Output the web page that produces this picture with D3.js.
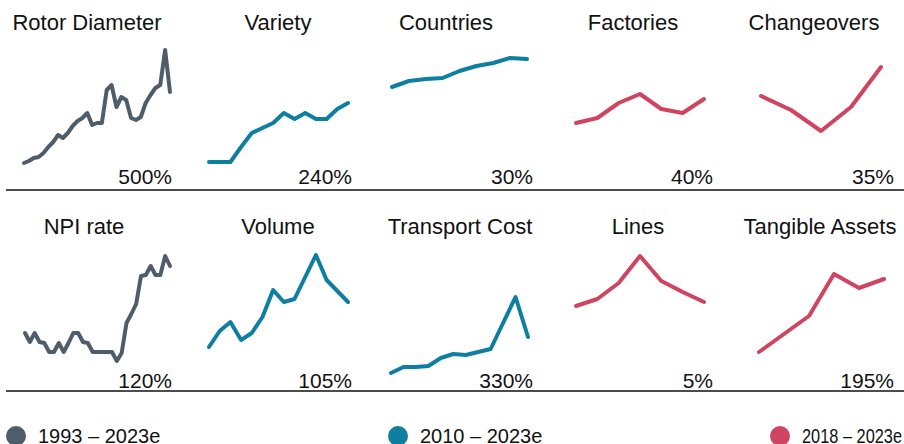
<!DOCTYPE html>
<html>
<head>
<meta charset="utf-8">
<script src="https://cdn.jsdelivr.net/npm/d3@7"></script>
<style>
  body { margin: 0; background: #fff; }
  text { font-family: "Liberation Sans", Arial, sans-serif; fill: #111; }
</style>
</head>
<body>
<svg id="chart" width="904" height="444"></svg>
<script>
// Panel titles and growth labels (row by row)
const titles = ["Rotor Diameter", "Variety", "Countries", "Factories", "Changeovers",
  "NPI rate", "Volume", "Transport Cost", "Lines", "Tangible Assets"]
const growthLabels = ["500%", "240%", "30%", "40%", "35%",
  "120%", "105%", "330%", "5%", "195%"]
const periods = ["1993 – 2023e", "2010 – 2023e", "2018 – 2023e"]
const panelPeriod = [0, 1, 1, 2, 2, 0, 1, 1, 2, 2]

// Series, index values
const rotorDiameter = [7, 9, 12, 13, 17, 23, 28, 35, 32, 37, 44, 49, 52, 57, 45, 47, 47,
  80, 85, 63, 73, 70, 52, 50, 53, 67, 75, 82, 85, 120, 78]
const variety = [8, 8, 8, 23, 37, 42, 47, 57, 51, 57, 51, 51, 61, 67]
const countries = [83, 89, 91, 92, 99, 104, 107, 112, 111]
const factories = [47, 52, 67, 76, 61, 57, 71]
const changeovers = [74, 60, 39, 63, 103]
const npiRate = [41, 32, 41, 32, 31, 22, 22, 31, 22, 31, 41, 41, 32, 31, 22, 22, 22, 22,
  22, 13, 21, 51, 60, 70, 98, 99, 108, 99, 99, 118, 108]
const volume = [27, 43, 52, 34, 41, 57, 84, 72, 75, 97, 119, 94, 83, 72]
const transportCost = [1, 7, 7, 8, 16, 20, 19, 22, 25, 51, 77, 37]
const lines = [68, 75, 91, 118, 93, 82, 72]
const tangibleAssets = [22, 40, 58, 100, 86, 95]

const series = [rotorDiameter, variety, countries, factories, changeovers,
  npiRate, volume, transportCost, lines, tangibleAssets]

const colors = ["#4f5d6a", "#0e7fa0", "#cf4460"]

// Layout
const rowOffset = 204
const plotX = [[24, 170], [209, 348], [392, 527], [576, 704], [761, 881],
  [25, 170], [209, 348], [391, 528], [576, 704], [759, 884]]
const titleX = [87, 278, 446, 633, 814, 84, 278, 460, 638, 820]
const labelRight = [172, 352, 533, 713, 894]

const svg = d3.select("#chart")

series.forEach((values, i) => {
  const row = Math.floor(i / 5)
  const col = i % 5
  const top = row * rowOffset
  const g = svg.append("g")

  const x = d3.scaleLinear()
    .domain([0, values.length - 1])
    .range(plotX[i])
  const y = d3.scaleLinear()
    .domain([0, 120])
    .range([top + 170, top + 50])

  const line = d3.line()
    .x((d, j) => x(j))
    .y(d => y(d))

  g.append("path")
    .datum(values)
    .attr("d", line)
    .attr("fill", "none")
    .attr("stroke", colors[panelPeriod[i]])
    .attr("stroke-width", 4)
    .attr("stroke-linejoin", "round")
    .attr("stroke-linecap", "round")

  g.append("text")
    .attr("x", titleX[i])
    .attr("y", top + 30)
    .attr("text-anchor", "middle")
    .attr("font-size", 22)
    .text(titles[i])

  g.append("text")
    .attr("x", labelRight[col])
    .attr("y", top + 184)
    .attr("text-anchor", "end")
    .attr("font-size", 21)
    .text(growthLabels[i])
})

// Row separators
;[190, 391].forEach(yy => {
  svg.append("line")
    .attr("x1", 6).attr("x2", 904)
    .attr("y1", yy).attr("y2", yy)
    .attr("stroke", "#111")
    .attr("stroke-width", 1.5)
})

// Legend (last label squeezed to fit the right edge, as in the original)
const legendX = [16, 398, 780]
const legend = svg.append("g")
  .selectAll("g")
  .data(periods)
  .join("g")
  .attr("transform", (d, i) => `translate(${legendX[i]}, 436)`)

legend.append("circle")
  .attr("r", 10)
  .attr("fill", (d, i) => colors[i])

legend.append("text")
  .attr("x", 22)
  .attr("y", 7)
  .attr("font-size", 20)
  .each(function(d, i) {
    if (i === 2) {
      d3.select(this)
        .attr("textLength", 100)
        .attr("lengthAdjust", "spacingAndGlyphs")
    }
  })
  .text(d => d)
</script>
</body>
</html>
